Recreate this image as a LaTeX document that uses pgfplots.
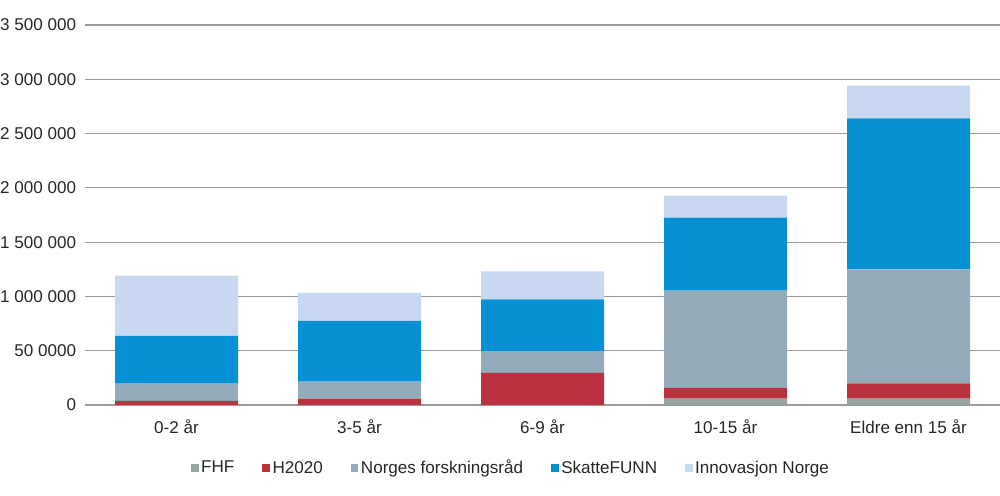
\documentclass[border=0pt]{standalone}
\usepackage{pgfplots}
\pgfplotsset{compat=1.18}
\usepackage{fontspec}
\setmainfont{Liberation Sans}
\definecolor{cFHF}{HTML}{97A59F}
\definecolor{cH}{HTML}{BA3140}
\definecolor{cNFR}{HTML}{94ABBC}
\definecolor{cSF}{HTML}{0591D3}
\definecolor{cIN}{HTML}{C8D8F0}
\definecolor{cgrid}{HTML}{9A9A9A}
\begin{document}
\begin{tikzpicture}
\useasboundingbox (0,0) rectangle (750pt,372pt);
\begin{axis}[
  at={(63.75pt,68.25pt)}, anchor=south west,
  scale only axis, width=686.25pt, height=285pt,
  ybar stacked, bar width=92.25pt,
  xmin=-0.5, xmax=4.5, ymin=0, ymax=3500000,
  xtick={0,1,2,3,4},
  xticklabels={0-2 år, 3-5 år, 6-9 år, 10-15 år, Eldre enn 15 år},
  ytick={0,500000,1000000,1500000,2000000,2500000,3000000,3500000},
  yticklabels={0, 50 0000, 1 000 000, 1 500 000, 2 000 000, 2 500 000, 3 000 000, 3 500 000},
  scaled y ticks=false,
  axis line style={draw=none},
  major tick length=0pt,
  ymajorgrids, grid style={cgrid, line width=0.9pt},
  tick label style={font=\fontsize{12.8}{14}\selectfont, text=black!85},
  yticklabel style={anchor=east, inner sep=0pt, xshift=-6.5pt},
  xticklabel style={anchor=north, inner sep=0pt, yshift=-11pt},
  legend columns=5,
  legend style={at={(0.466,-0.166)}, anchor=center, draw=none, fill=none,
    font=\fontsize{12.8}{14}\selectfont, text=black!85,
    /tikz/every even column/.append style={column sep=19pt},
    inner sep=0pt},
  legend cell align=left,
  legend image code/.code={\fill[#1] (1pt,-2.8pt) rectangle (6.6pt,2.8pt);},
  every axis plot/.append style={draw=none},
]
\addplot+[fill=cFHF] coordinates {(0,0) (1,0) (2,0) (3,58000) (4,58000)};
\addplot+[fill=cH] coordinates {(0,37000) (1,58000) (2,295000) (3,99000) (4,142000)};
\addplot+[fill=cNFR] coordinates {(0,159000) (1,157000) (2,202000) (3,896000) (4,1050000)};
\addplot+[fill=cSF] coordinates {(0,440000) (1,559000) (2,476000) (3,672000) (4,1390000)};
\addplot+[fill=cIN] coordinates {(0,555000) (1,258000) (2,258000) (3,203000) (4,301000)};
\legend{FHF, H2020, Norges forskningsråd, SkatteFUNN, Innovasjon Norge}
\end{axis}
\end{tikzpicture}
\end{document}
